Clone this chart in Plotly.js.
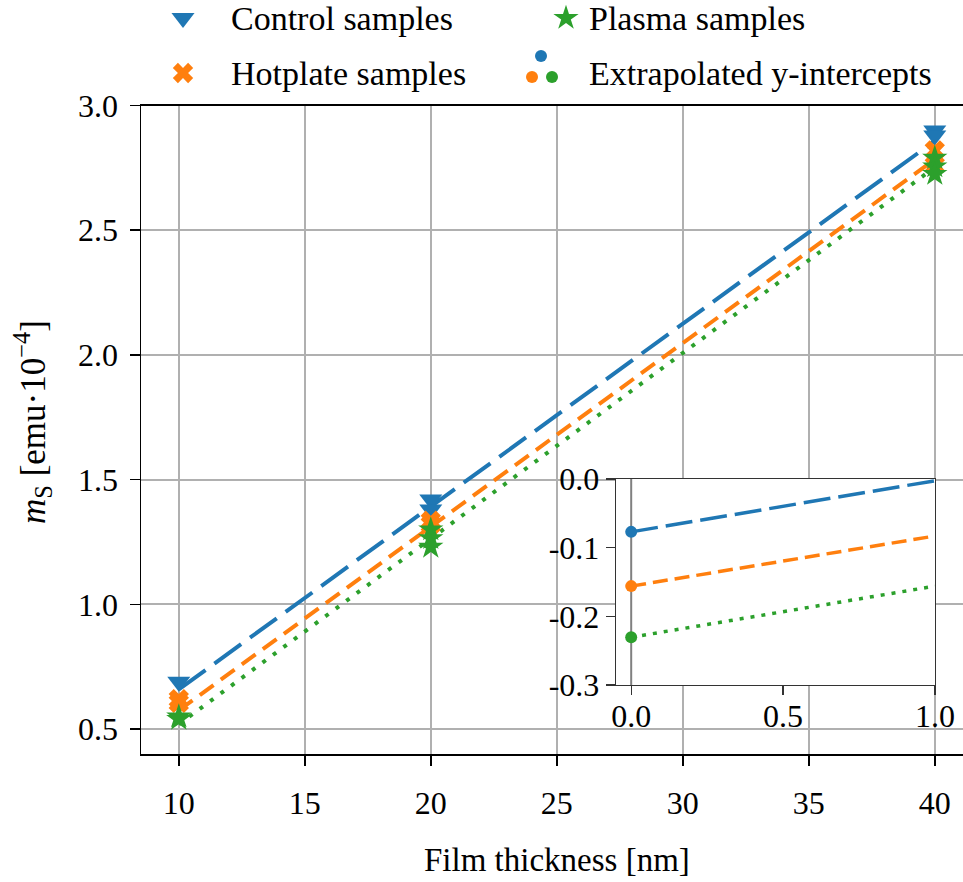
<!DOCTYPE html>
<html>
<head>
<meta charset="utf-8">
<script src="https://cdn.plot.ly/plotly-3.0.1.min.js"></script>
<style>html,body{margin:0;padding:0;background:#fff;}</style>
</head>
<body>
<div id="chart" style="width:963px;height:882px;"></div>
<script>
// ---- data ----
const controlX  = [10, 20, 20, 40, 40];
const controlY  = [0.69, 1.42, 1.38, 2.90, 2.88];
const hotplateX = [10, 10, 20, 20, 40, 40];
const hotplateY = [0.62, 0.605, 1.335, 1.32, 2.82, 2.76];
const plasmaX   = [10, 10, 20, 20, 20, 40, 40, 40];
const plasmaY   = [0.55, 0.54, 1.30, 1.265, 1.23, 2.79, 2.755, 2.725];

// linear fits (end points)
const fitX        = [10, 40];
const fitControl  = [0.659, 2.858];
const fitHotplate = [0.575, 2.784];
const fitPlasma   = [0.519, 2.752];

// inset: extrapolation towards y-intercept
const insetX        = [0, 1];
const insetControl  = [-0.077, -0.0025];
const insetHotplate = [-0.156, -0.083];
const insetPlasma   = [-0.2305, -0.156];
const interceptX    = [0];

const mainXTicks = [10, 15, 20, 25, 30, 35, 40];
const mainYTicks = [0.5, 1.0, 1.5, 2.0, 2.5, 3.0];
const insetXTicks = [0, 0.5, 1.0];
const insetXText  = ["0.0", "0.5", "1.0"];
const insetYTicks = [0, -0.1, -0.2, -0.3];
const insetYText  = ["0.0", "-0.1", "-0.2", "-0.3"];

const legendLabels = ["Control samples", "Plasma samples", "Hotplate samples", "Extrapolated y-intercepts"];

// ---- style ----
const BLUE = "#1f77b4", ORANGE = "#ff7f0e", GREEN = "#2ca02c";
const FONT = "Liberation Serif, 'Times New Roman', serif";
const FS = 32;
const W = 963, H = 882;

const traces = [
  // fit lines
  {x: fitX, y: fitControl, mode: "lines", line: {color: BLUE, width: 4, dash: "33px,11px"}, xaxis: "x", yaxis: "y", hoverinfo: "skip"},
  {x: fitX, y: fitHotplate, mode: "lines", line: {color: ORANGE, width: 4, dash: "17px,9px"}, xaxis: "x", yaxis: "y", hoverinfo: "skip"},
  {x: fitX, y: fitPlasma, mode: "lines", line: {color: GREEN, width: 4, dash: "4px,9px"}, xaxis: "x", yaxis: "y", hoverinfo: "skip"},
  // samples
  {x: controlX, y: controlY, mode: "markers", marker: {symbol: "triangle-down", size: 20, color: BLUE}, xaxis: "x", yaxis: "y"},
  {x: hotplateX, y: hotplateY, mode: "markers", marker: {symbol: "x", size: 18, color: ORANGE}, xaxis: "x", yaxis: "y"},
  {x: plasmaX, y: plasmaY, mode: "markers", marker: {symbol: "star", size: 19, color: GREEN}, xaxis: "x", yaxis: "y"},
  // inset
  {x: insetX, y: insetControl, mode: "lines", line: {color: BLUE, width: 3.5, dash: "27px,8px"}, xaxis: "x2", yaxis: "y2"},
  {x: insetX, y: insetHotplate, mode: "lines", line: {color: ORANGE, width: 3.5, dash: "15px,7px"}, xaxis: "x2", yaxis: "y2"},
  {x: insetX, y: insetPlasma, mode: "lines", line: {color: GREEN, width: 3.5, dash: "4px,7px"}, xaxis: "x2", yaxis: "y2"},
  {x: interceptX, y: [insetControl[0]], mode: "markers", marker: {symbol: "circle", size: 12, color: BLUE}, xaxis: "x2", yaxis: "y2"},
  {x: interceptX, y: [insetHotplate[0]], mode: "markers", marker: {symbol: "circle", size: 12, color: ORANGE}, xaxis: "x2", yaxis: "y2"},
  {x: interceptX, y: [insetPlasma[0]], mode: "markers", marker: {symbol: "circle", size: 12, color: GREEN}, xaxis: "x2", yaxis: "y2"},
  // legend handles (pixel-like axis at top)
  {x: [183], y: [18], mode: "markers", marker: {symbol: "triangle-down", size: 20, color: BLUE}, xaxis: "x3", yaxis: "y3"},
  {x: [566], y: [18], mode: "markers", marker: {symbol: "star", size: 19, color: GREEN}, xaxis: "x3", yaxis: "y3"},
  {x: [183], y: [73], mode: "markers", marker: {symbol: "x", size: 18, color: ORANGE}, xaxis: "x3", yaxis: "y3"},
  {x: [541, 532, 552], y: [56, 77, 77], mode: "markers", marker: {symbol: "circle", size: 12, color: [BLUE, ORANGE, GREEN]}, xaxis: "x3", yaxis: "y3"}
];

const axisFont = {family: FONT, size: FS, color: "#000"};
const legendFont = {family: FONT, size: 34, color: "#000"};
const titleFont = {family: FONT, size: 33, color: "#000"};

const layout = {
  width: W, height: H,
  margin: {l: 0, r: 0, t: 0, b: 0},
  paper_bgcolor: "#fff", plot_bgcolor: "#fff",
  showlegend: false,
  font: {family: FONT, size: FS, color: "#000"},
  xaxis: {
    domain: [141 / W, 1], range: [8.5, 41.12],
    tickvals: mainXTicks, ticks: "outside", ticklen: 10, tickwidth: 1.5, tickcolor: "#000",
    showgrid: true, gridcolor: "#b0b0b0", gridwidth: 1.8,
    showline: true, linecolor: "#000", linewidth: 1.5, mirror: true,
    zeroline: false, tickfont: axisFont, ticklabelstandoff: 10
  },
  yaxis: {
    domain: [(H - 754) / H, (H - 105.5) / H], range: [0.40, 3.0],
    tickvals: mainYTicks, tickformat: ".1f", ticks: "outside", ticklen: 10, tickwidth: 1.5, tickcolor: "#000",
    showgrid: true, gridcolor: "#b0b0b0", gridwidth: 1.8,
    showline: true, linecolor: "#000", linewidth: 1.5, mirror: false,
    zeroline: false, tickfont: axisFont, ticklabelstandoff: 5
  },
  xaxis2: {
    domain: [616 / W, 935 / W], range: [-0.05, 1.0], anchor: "y2",
    tickvals: insetXTicks, ticktext: insetXText, ticks: "outside", ticklen: 9, tickwidth: 1.3, tickcolor: "#333",
    showgrid: false, showline: true, linecolor: "#333", linewidth: 1.3, mirror: true,
    zeroline: false, tickfont: axisFont, ticklabelstandoff: -7
  },
  yaxis2: {
    domain: [(H - 685) / H, (H - 479) / H], range: [-0.3, 0.0], anchor: "x2",
    tickvals: insetYTicks, ticktext: insetYText, ticks: "outside", ticklen: 9, tickwidth: 1.3, tickcolor: "#333",
    showgrid: false, showline: true, linecolor: "#333", linewidth: 1.3, mirror: true,
    zeroline: false, tickfont: axisFont
  },
  xaxis3: {domain: [0, 1], range: [0, W], visible: false, anchor: "y3", fixedrange: true},
  yaxis3: {domain: [(H - 97) / H, 1], range: [97, 0], visible: false, anchor: "x3", fixedrange: true},
  shapes: [
    {type: "line", xref: "x2", yref: "y2", x0: 0, x1: 0, y0: -0.3, y1: 0, line: {color: "#808080", width: 2}, layer: "below"}
  ],
  annotations: [
    {text: legendLabels[0], xref: "x3", yref: "y3", x: 229, y: 18, xanchor: "left", yanchor: "middle", showarrow: false, font: legendFont},
    {text: legendLabels[1], xref: "x3", yref: "y3", x: 587, y: 18, xanchor: "left", yanchor: "middle", showarrow: false, font: legendFont},
    {text: legendLabels[2], xref: "x3", yref: "y3", x: 229, y: 73, xanchor: "left", yanchor: "middle", showarrow: false, font: legendFont},
    {text: legendLabels[3], xref: "x3", yref: "y3", x: 587, y: 73, xanchor: "left", yanchor: "middle", showarrow: false, font: legendFont},
    {text: "Film thickness [nm]", xref: "paper", yref: "paper", x: 557 / W, y: (H - 860) / H, xanchor: "center", yanchor: "middle", showarrow: false, font: titleFont},
    {text: "<i>m</i><sub>S</sub> [emu·10<sup>−4</sup>]", xref: "paper", yref: "paper", x: 32 / W, y: (H - 422) / H, xanchor: "center", yanchor: "middle", textangle: -90, showarrow: false, font: {family: FONT, size: 35, color: "#000"}}
  ]
};

Plotly.newPlot("chart", traces, layout, {staticPlot: true, displayModeBar: false});
</script>
</body>
</html>
